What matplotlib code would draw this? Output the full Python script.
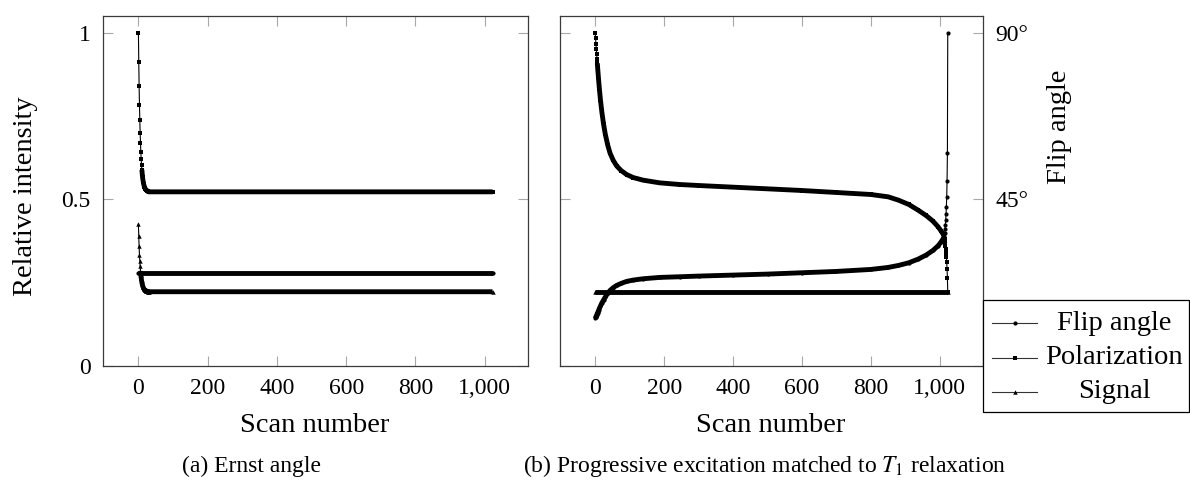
import matplotlib
matplotlib.use("Agg")
import matplotlib.pyplot as plt
from matplotlib.lines import Line2D
from matplotlib.patches import Rectangle

plt.rcParams["font.family"] = ["Liberation Serif", "DejaVu Serif"]
plt.rcParams["mathtext.fontset"] = "stix"

# ---------------- data ----------------
# (a) Ernst angle: constant flip angle, polarization relaxes to steady state
scan_a = list(range(0, 31)) + [1023]
polarization_a = [1.000, 0.914, 0.842, 0.784, 0.739, 0.701, 0.669, 0.642, 0.621, 0.603,
                  0.589, 0.577, 0.567, 0.559, 0.553, 0.547, 0.543, 0.539, 0.536, 0.534,
                  0.532, 0.530, 0.529, 0.528, 0.527, 0.526, 0.525, 0.525, 0.524, 0.524,
                  0.523, 0.523]
signal_a = [0.426, 0.389, 0.359, 0.334, 0.315, 0.299, 0.285, 0.273, 0.265, 0.257,
            0.251, 0.246, 0.242, 0.238, 0.236, 0.233, 0.231, 0.230, 0.228, 0.227,
            0.227, 0.226, 0.225, 0.225, 0.225, 0.224, 0.224, 0.224, 0.223, 0.223,
            0.223, 0.223]
flip_scan_a = [0, 1023]
flip_a = [0.278, 0.278]

# (b) progressive excitation matched to T1 relaxation
scan_b = [0, 1, 2, 3, 4, 5, 6, 7, 8, 9, 10, 12, 15, 19, 24, 29, 36, 43, 52, 62, 75, 91,
          110, 139, 187, 245, 300, 400, 500, 600, 700, 800, 850, 880, 910, 937, 960, 980,
          995, 1004, 1010, 1013, 1014, 1015, 1016, 1017, 1018, 1019, 1020, 1021, 1022, 1023]
polarization_b = [1.000, 0.984, 0.968, 0.953, 0.938, 0.923, 0.909, 0.895, 0.882, 0.869,
                  0.856, 0.832, 0.800, 0.764, 0.727, 0.697, 0.664, 0.639, 0.618, 0.601,
                  0.587, 0.575, 0.566, 0.558, 0.550, 0.545, 0.542, 0.537, 0.532, 0.527,
                  0.521, 0.515, 0.508, 0.498, 0.485, 0.468, 0.452, 0.435, 0.418, 0.405,
                  0.395, 0.390, 0.381, 0.372, 0.361, 0.351, 0.340, 0.327, 0.311, 0.291,
                  0.264, 0.223]
flip_b = [0.143, 0.146, 0.148, 0.150, 0.153, 0.155, 0.158, 0.160, 0.163, 0.165,
          0.168, 0.173, 0.180, 0.189, 0.198, 0.207, 0.218, 0.227, 0.235, 0.242,
          0.248, 0.254, 0.258, 0.262, 0.266, 0.268, 0.270, 0.273, 0.276, 0.280,
          0.284, 0.290, 0.296, 0.302, 0.310, 0.321, 0.333, 0.347, 0.361, 0.373,
          0.383, 0.389, 0.398, 0.410, 0.423, 0.438, 0.456, 0.478, 0.508, 0.555,
          0.639, 1.000]
signal_scan_b = [0, 1023]
signal_b = [0.223, 0.223]

x_ticks = [0, 200, 400, 600, 800, 1000]
x_tick_labels = ["0", "200", "400", "600", "800", "1,000"]
y_ticks = [0, 0.5, 1]
y_tick_labels = ["0", "0.5", "1"]
angle_tick_labels = ["", "45°", "90°"]
series_names = ["Flip angle", "Polarization", "Signal"]

# ---------------- styling ----------------
W, H = 1190, 492
FS_TICK = 17
FS_LABEL = 20.5
FS_CAPTION = 17
FRAME = "#3a3a3a"
TICK = "#a8a8a8"
MARKERS = {"Flip angle": "o", "Polarization": "s", "Signal": "^"}
MS = {"o": 3.0, "s": 2.8, "^": 3.2}
BAND_LW = 3.5


def fx(px):
    return px / W


def fy(py):
    return 1 - py / H


def draw_series(ax, scans, values, name, band_from, band_to):
    m = MARKERS[name]
    ax.plot(scans, values, color="black", lw=0.8, marker=m, ms=MS[m],
            markeredgewidth=0, zorder=3)
    bx = [s for s in scans if band_from <= s <= band_to]
    by = [v for s, v in zip(scans, values) if band_from <= s <= band_to]
    ax.plot(bx, by, color="black", lw=BAND_LW, solid_capstyle="butt",
            solid_joinstyle="round", zorder=3)


def style_axes(ax):
    ax.set_xlim(-102.3, 1125.3)
    ax.set_ylim(0, 1.051)
    ax.set_xticks(x_ticks)
    ax.set_xticklabels(x_tick_labels)
    ax.set_yticks(y_ticks)
    for sp in ax.spines.values():
        sp.set_color(FRAME)
        sp.set_linewidth(0.9)
    ax.tick_params(direction="in", length=7.5, width=0.8, color=TICK,
                   top=True, right=True, labelsize=FS_TICK, pad=9)


fig = plt.figure(figsize=(W / 100, H / 100), dpi=100)
ax_a = fig.add_axes([fx(103), fy(366), fx(528) - fx(103), fy(16) - fy(366)])
ax_b = fig.add_axes([fx(560), fy(366), fx(983) - fx(560), fy(16) - fy(366)])

# (a)
draw_series(ax_a, flip_scan_a, flip_a, "Flip angle", 0, 1023)
draw_series(ax_a, scan_a, polarization_a, "Polarization", 10, 1023)
draw_series(ax_a, scan_a, signal_a, "Signal", 6, 1023)
style_axes(ax_a)
ax_a.set_yticklabels(y_tick_labels)

# (b)
draw_series(ax_b, signal_scan_b, signal_b, "Signal", 0, 1023)
draw_series(ax_b, scan_b, polarization_b, "Polarization", 6, 1013)
draw_series(ax_b, scan_b, flip_b, "Flip angle", 0, 1013)
style_axes(ax_b)
ax_b.set_yticklabels(angle_tick_labels)
ax_b.tick_params(labelleft=False, labelright=True)

# axis labels and captions
fig.text(fx(26), fy(196), "Relative intensity", rotation=90, ha="center", va="center",
         fontsize=FS_LABEL)
fig.text(fx(1059), fy(127), "Flip angle", rotation=90, ha="center", va="center",
         fontsize=FS_LABEL)
fig.text(fx(315), fy(425), "Scan number", ha="center", va="center", fontsize=FS_LABEL)
fig.text(fx(771), fy(425), "Scan number", ha="center", va="center", fontsize=FS_LABEL)
fig.text(fx(251), fy(466), "(a) Ernst angle", ha="center", va="center", fontsize=FS_CAPTION)
fig.text(fx(765), fy(466), "(b) Progressive excitation matched to $T_1$ relaxation",
         ha="center", va="center", fontsize=FS_CAPTION)

# legend box
fig.patches.append(Rectangle((fx(983), fy(412)), fx(1189) - fx(983), fy(300) - fy(412),
                             transform=fig.transFigure, fill=True, facecolor="white",
                             edgecolor="black", lw=0.9, zorder=5))
for i, name in enumerate(series_names):
    yy = fy(323 + 34.5 * i)
    m = MARKERS[name]
    fig.lines.append(Line2D([fx(992), fx(1014.5), fx(1037)], [yy, yy, yy],
                            transform=fig.transFigure, color="#333333", lw=0.8,
                            marker=m, ms=MS[m], markevery=[1], markerfacecolor="black",
                            markeredgewidth=0, zorder=6))
    fig.text(fx(1114), yy, name, ha="center", va="center", fontsize=FS_LABEL, zorder=6)

fig.savefig("out.png", dpi=100)
